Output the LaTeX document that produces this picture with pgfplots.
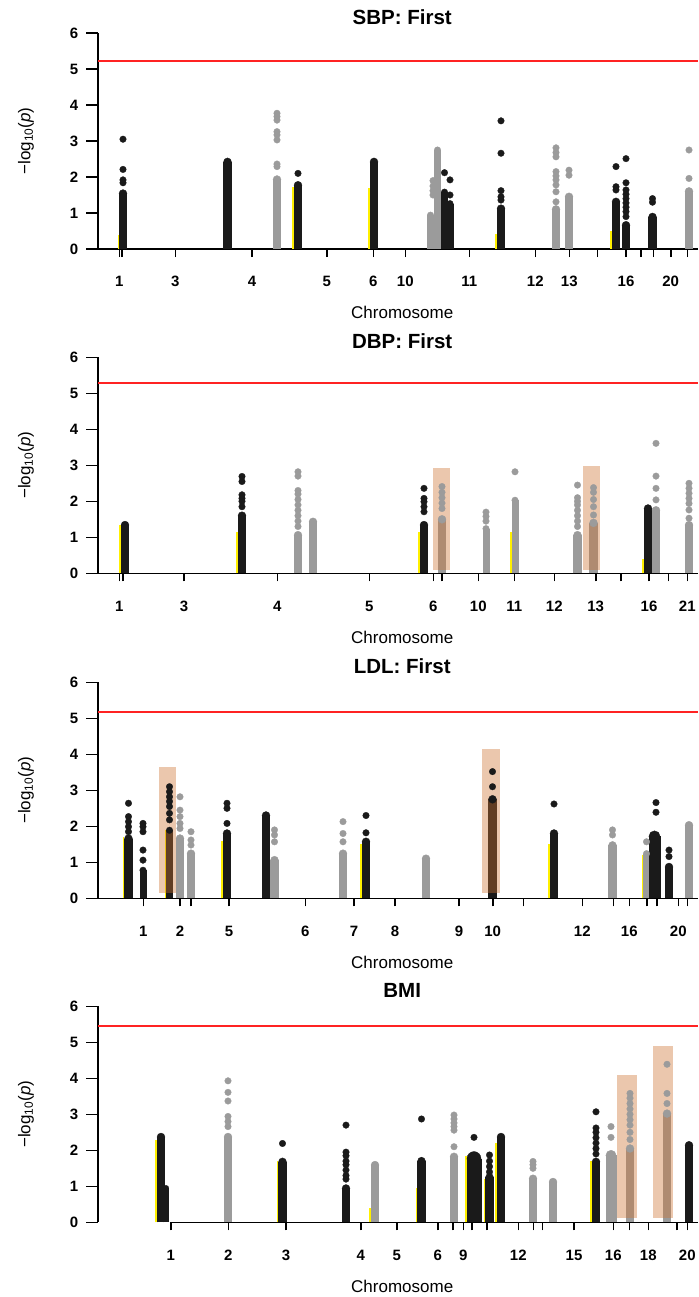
\documentclass[border=0pt]{standalone}
\usepackage{fontspec}
\setmainfont{Liberation Sans}
\usepackage{pgfplots}
\pgfplotsset{compat=1.18}

\definecolor{snpdark}{RGB}{26,26,26}
\definecolor{snpgray}{RGB}{155,155,155}
\definecolor{locus}{RGB}{205,115,50}
\definecolor{trace}{RGB}{255,240,0}
\definecolor{sigline}{RGB}{255,35,35}

\pgfplotsset{
  manhattan/.style={
    width=600pt, height=216pt, scale only axis,
    xmin=98, xmax=698, ymin=0, ymax=6,
    axis x line*=bottom, axis y line*=left,
    axis line style={line width=1.6pt, black},
    tick align=outside,
    major tick length=8pt, minor tick length=12pt,
    tick style={line width=1.6pt, black},
    ytick={0,...,6}, minor ytick={0,...,6},
    yticklabels={0,1,2,3,4,5,6},
    tick label style={font=\bfseries\fontsize{15}{18}\selectfont, inner sep=0pt},
    yticklabel style={anchor=east, xshift=-11.7pt},
    xticklabel style={anchor=north, yshift=-19.3pt},
    xlabel={Chromosome},
    ylabel={−log\textsubscript{10}(\textit{p})},
    xlabel style={font=\fontsize{17}{20}\selectfont, at={(axis description cs:0.507,-0.324)}, anchor=base},
    ylabel style={font=\fontsize{17}{20}\selectfont, at={(axis description cs:-0.12,0.5)}, anchor=center, rotate=0},
    title style={font=\bfseries\fontsize{20.5}{24}\selectfont, at={(axis description cs:0.507,1.0532)}, anchor=base, yshift=-8.5pt},
  },
  dense/.style 2 args={ycomb, color=#1, line width=#2pt, mark=*, mark size=#2*0.47pt,
    mark options={line width=0.3pt, draw=#1, fill=#1}},
  snps/.style={only marks, color=#1, mark=*, mark size=3.3pt,
    mark options={line width=0.3pt, draw=#1, fill=#1}},
  trace/.style={ycomb, mark=none, line width=1.3pt, color=trace},
  locus/.style={draw=none, fill=locus, fill opacity=0.4, mark=none},
  sig/.style={mark=none, color=sigline, line width=2pt},
}

\begin{document}
\begin{tikzpicture}
\useasboundingbox (0,0) rectangle (698pt,-1297pt);

% ---------------- SBP ----------------
\begin{axis}[manhattan, at={(98pt,-249pt)}, anchor=south west,
  title={SBP: First},
  xtick={119.3,122,175.3,252,326.7,373.3,405.3,469.3,535.3,569.3,597.3,626,640.7,653.3,670.7,687.3},
  xticklabels={1,,3,4,5,6,10,11,12,13,,16,,,20,}]
\addplot[dense={snpgray}{8.5}] coordinates {(277,1.93) (556,1.1) (569,1.45) (689,1.6)};
\addplot[dense={snpgray}{7}] coordinates {(430.5,0.94) (437.5,2.75)};
\addplot[snps=snpgray] coordinates {
  (277,2.29) (277,2.36) (277,3.03) (277,3.17) (277,3.26) (277,3.58) (277,3.68) (277,3.77)
  (433,1.5) (433,1.62) (433,1.75) (433,1.9)
  (556,1.31) (556,1.59) (556,1.78) (556,1.92) (556,2.03) (556,2.15) (556,2.56) (556,2.68) (556,2.81)
  (569,2.05) (569,2.19) (689,1.96) (689,2.75)};
\addplot[dense={snpdark}{8.5}] coordinates {(123,1.54) (227.5,2.42) (298,1.77) (374,2.42) (501,1.12) (616,1.31) (626,0.66) (652.5,0.89)};
\addplot[dense={snpdark}{7}] coordinates {(444.5,1.58) (450,1.26)};
\addplot[snps=snpdark] coordinates {
  (123,1.84) (123,1.92) (123,2.21) (123,3.05) (298,2.1)
  (444.5,2.12) (450,1.5) (450,1.92)
  (501,1.36) (501,1.45) (501,1.62) (501,2.66) (501,3.56)
  (616,1.64) (616,1.73) (616,2.29)
  (626,0.9) (626,1.04) (626,1.16) (626,1.28) (626,1.4) (626,1.52) (626,1.64) (626,1.84) (626,2.51)
  (652.5,1.3) (652.5,1.4)};
\addplot[trace] coordinates {(118.2,0.4) (293.1,1.73) (369.1,1.7) (496.1,0.42) (611.1,0.5)};
\addplot[sig] coordinates {(98,5.22) (698,5.22)};
\end{axis}

% ---------------- DBP ----------------
\begin{axis}[manhattan, at={(98pt,-573.3pt)}, anchor=south west,
  title={DBP: First},
  xtick={119.3,122.7,184,277.3,369.3,433.3,441.7,478.3,514.3,554.3,595.7,621,649,668.3,687.3},
  xticklabels={1,,3,4,5,6,,10,11,12,13,,16,,21}]
\addplot[dense={snpgray}{8.5}] coordinates {(298,1.06) (313,1.43) (442,1.5) (577.5,1.06) (593.5,1.4) (656,1.75) (689,1.34)};
\addplot[dense={snpgray}{7}] coordinates {(486,1.24) (515,2.03)};
\addplot[snps=snpgray] coordinates {
  (298,1.3) (298,1.45) (298,1.6) (298,1.75) (298,1.9) (298,2.05) (298,2.2) (298,2.3) (298,2.7) (298,2.82)
  (442,1.8) (442,1.95) (442,2.1) (442,2.25) (442,2.41)
  (486,1.45) (486,1.58) (486,1.7) (515,2.82)
  (577.5,1.3) (577.5,1.45) (577.5,1.6) (577.5,1.75) (577.5,1.9) (577.5,2.0) (577.5,2.1) (577.5,2.45)
  (593.5,1.62) (593.5,1.85) (593.5,2.05) (593.5,2.25) (593.5,2.38)
  (656,2.04) (656,2.36) (656,2.7) (656,3.61)
  (689,1.53) (689,1.76) (689,1.94) (689,2.08) (689,2.22) (689,2.36) (689,2.5)};
\addplot[dense={snpdark}{8.5}] coordinates {(125,1.34) (242,1.6) (424,1.34) (648,1.8)};
\addplot[snps=snpdark] coordinates {
  (242,1.85) (242,2.0) (242,2.08) (242,2.18) (242,2.55) (242,2.69)
  (424,1.71) (424,1.85) (424,1.99) (424,2.08) (424,2.36)};
\addplot[trace] coordinates {(120.1,1.34) (237.1,1.16) (419.1,1.15) (510.9,1.15) (643.1,0.4)};
\addplot[locus] coordinates {(432.7,0.09) (450,0.09) (450,2.93) (432.7,2.93)} -- cycle;
\addplot[locus] coordinates {(582.7,0.09) (600,0.09) (600,2.98) (582.7,2.98)} -- cycle;
\addplot[sig] coordinates {(98,5.28) (698,5.28)};
\end{axis}

% ---------------- LDL ----------------
\begin{axis}[manhattan, at={(98pt,-898.3pt)}, anchor=south west,
  title={LDL: First},
  xtick={143.3,180,190.7,229,305.3,354,395,459,492.7,523.3,582.3,613.3,629.3,646.7,656.7,678.3,687.3},
  xticklabels={1,2,,5,6,7,8,9,10,,12,,16,,,20,}]
\addplot[dense={snpgray}{8.5}] coordinates {(180,1.66) (191,1.24) (274.5,1.06) (343,1.24) (426,1.1) (612.5,1.47) (689,2.03)};
\addplot[dense={snpgray}{7}] coordinates {(646.5,1.24)};
\addplot[snps=snpgray] coordinates {
  (180,1.94) (180,2.08) (180,2.27) (180,2.45) (180,2.82)
  (191,1.48) (191,1.62) (191,1.85)
  (274.5,1.57) (274.5,1.76) (274.5,1.9)
  (343,1.57) (343,1.8) (343,2.13)
  (612.5,1.76) (612.5,1.9) (646.5,1.57)};
\addplot[dense={snpdark}{8.5}] coordinates {(128.5,1.66) (227,1.8) (266,2.3) (366,1.57) (492.5,2.75) (554,1.8) (669,0.87)};
\addplot[dense={snpdark}{7}] coordinates {(143,0.78) (169.5,1.89)};
\addplot[dense={snpdark}{12}] coordinates {(654.5,1.72)};
\addplot[snps=snpdark] coordinates {
  (128.5,1.85) (128.5,1.99) (128.5,2.13) (128.5,2.27) (128.5,2.64)
  (143,1.06) (143,1.34) (143,1.85) (143,1.99) (143,2.08)
  (169.5,2.18) (169.5,2.36) (169.5,2.55) (169.5,2.69) (169.5,2.82) (169.5,2.96) (169.5,3.1)
  (227,2.08) (227,2.5) (227,2.64)
  (366,1.82) (366,2.3)
  (492.5,3.1) (492.5,3.52)
  (554,2.62)
  (656,2.39) (656,2.66)
  (669,1.16) (669,1.34)};
\addplot[trace] coordinates {(123.6,1.7) (165.4,1.9) (222.1,1.6) (361.1,1.5) (549.1,1.5) (642.4,1.2)};
\addplot[locus] coordinates {(159,0.14) (176,0.14) (176,3.66) (159,3.66)} -- cycle;
\addplot[locus] coordinates {(482,0.14) (500,0.14) (500,4.15) (482,4.15)} -- cycle;
\addplot[sig] coordinates {(98,5.17) (698,5.17)};
\end{axis}

% ---------------- BMI ----------------
\begin{axis}[manhattan, at={(98pt,-1222.3pt)}, anchor=south west,
  title={BMI},
  x axis line style={draw=none},
  xtick={170.7,228.3,286,360.7,396.7,437.7,452.7,463.3,471.7,486.7,518.3,533.3,542.3,574,613.3,629.3,648.3,676.7,687.3},
  xticklabels={1,2,3,4,5,6,,9,,,12,,,15,16,,18,,20}]
\addplot[black, mark=none, line width=1.6pt] coordinates {(170.7,0) (698,0)};
\addplot[dense={snpgray}{8.5}] coordinates {(228,2.37) (375,1.59) (454,1.82) (533,1.21) (553,1.12) (630,2.05) (667,3.02)};
\addplot[dense={snpgray}{11}] coordinates {(611,1.86)};
\addplot[snps=snpgray] coordinates {
  (228,2.66) (228,2.8) (228,2.94) (228,3.37) (228,3.61) (228,3.93)
  (454,2.1) (454,2.56) (454,2.66) (454,2.76) (454,2.87) (454,2.98)
  (533,1.5) (533,1.6) (533,1.69)
  (611,2.36) (611,2.66)
  (630,2.3) (630,2.5) (630,2.7) (630,2.85) (630,3.0) (630,3.15) (630,3.3) (630,3.45) (630,3.58)
  (667,3.3) (667,3.58) (667,4.39)};
\addplot[dense={snpdark}{8.5}] coordinates {(161,2.37) (282.5,1.68) (346,0.94) (421.5,1.7) (489.5,1.25) (501,2.37) (596,1.68) (689,2.14)};
\addplot[dense={snpdark}{6}] coordinates {(166,0.95)};
\addplot[dense={snpdark}{15}] coordinates {(474,1.77)};
\addplot[snps=snpdark] coordinates {
  (282.5,2.19)
  (346,1.2) (346,1.3) (346,1.45) (346,1.6) (346,1.7) (346,1.85) (346,1.95) (346,2.7)
  (421.5,2.87) (474,2.36)
  (489.5,1.4) (489.5,1.55) (489.5,1.7) (489.5,1.87)
  (596,1.9) (596,2.05) (596,2.2) (596,2.35) (596,2.5) (596,2.62) (596,3.07)};
\addplot[trace] coordinates {(156.1,2.3) (277.6,1.7) (370.1,0.4) (416.6,0.95) (465.9,1.85) (484.6,1.2) (496.1,2.2) (591.1,1.7)};
\addplot[locus] coordinates {(617.3,0.13) (636.7,0.13) (636.7,4.09) (617.3,4.09)} -- cycle;
\addplot[locus] coordinates {(652.7,0.13) (672.7,0.13) (672.7,4.9) (652.7,4.9)} -- cycle;
\addplot[sig] coordinates {(98,5.44) (698,5.44)};
\end{axis}
\end{tikzpicture}
\end{document}
